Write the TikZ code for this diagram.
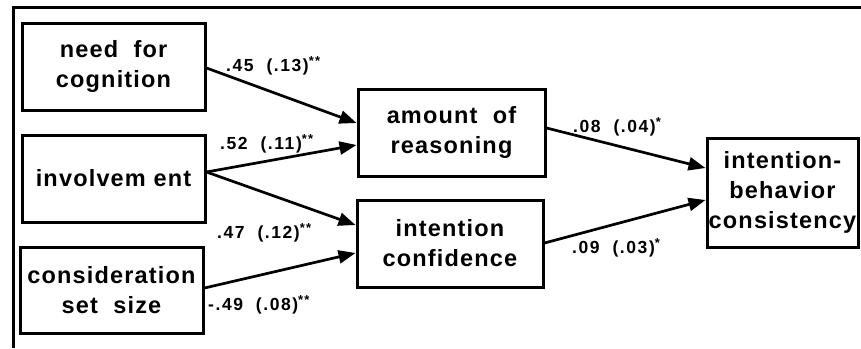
\documentclass[tikz,border=0pt]{standalone}
\usepackage{fontspec}
\setmainfont{Liberation Sans}[BoldFont={* Bold}]
\newfontfamily\boxfont{Liberation Sans Bold}[LetterSpace=5]
\newfontfamily\labfont{Liberation Sans Bold}[LetterSpace=9]
\newcommand{\stars}[1]{\raisebox{6pt}{\fontsize{13}{13}\selectfont #1}}
\usetikzlibrary{arrows.meta}
\begin{document}
\begin{tikzpicture}[x=1pt,y=-1pt,
  vbox/.style={draw,line width=3pt,inner sep=0pt,align=center,
    font=\boxfont\fontsize{23.5}{30}\selectfont},
  conn/.style={line width=2.7pt,-{Triangle[length=17pt,width=13pt]}},
  coef/.style={anchor=west,inner sep=0pt,font=\labfont\fontsize{17.5}{18}\selectfont}]
\useasboundingbox (0,0) rectangle (861,348);
\draw[line width=3pt] (861,7) -- (13,7) -- (13,348);
\node[vbox,minimum width=183pt,minimum height=87pt] (nfc) at (113.5,66.5) {need\ \ for\\cognition};
\node[vbox,minimum width=183pt,minimum height=87pt] (inv) at (113.5,178.5) {involvem ent};
\node[vbox,minimum width=183pt,minimum height=86pt] (css) at (111.5,290) {consideration\\set\ \ size};
\node[vbox,minimum width=187pt,minimum height=87pt] (aor) at (451.5,132.5) {amount\ \ of\\reasoning};
\node[vbox,minimum width=186pt,minimum height=87pt] (ic) at (450,243.5) {intention\\confidence};
\node[vbox,minimum width=151pt,minimum height=109pt] (ibc) at (782.5,192.5) {intention-\\behavior\\consistency};
\draw[conn] ([yshift=-1.5pt]nfc.east) -- ([yshift=9.5pt]aor.west);
\draw[conn] ([yshift=6.5pt]inv.east) -- ([yshift=-12.5pt]aor.west);
\draw[conn] ([yshift=6.5pt]inv.east) -- ([yshift=18.5pt]ic.west);
\draw[conn] ([yshift=2pt]css.east) -- ([yshift=-9.5pt]ic.west);
\draw[conn] ([yshift=4.5pt]aor.east) -- ([yshift=24.5pt]ibc.west);
\draw[conn] ([yshift=0.5pt]ic.east) -- ([yshift=-7.5pt]ibc.west);
\node[coef] (l1) at (226,66) {.45\ \ (.13)\stars{**}};
\node[coef] (l2) at (220,144) {.52\ \ (.11)\stars{**}};
\node[coef] (l3) at (217,233) {.47\ \ (.12)\stars{**}};
\node[coef] (l4) at (208,305) {-.49\ \ (.08)\stars{**}};
\node[coef] (l5) at (573,127) {.08\ \ (.04)\stars{*}};
\node[coef] (l6) at (572,248) {.09\ \ (.03)\stars{*}};
\end{tikzpicture}
\end{document}
